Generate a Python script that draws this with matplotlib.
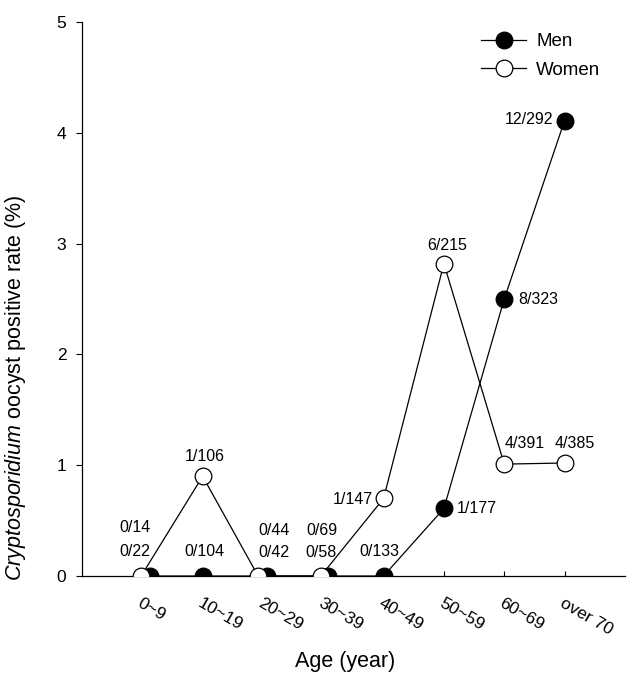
from __future__ import annotations

import matplotlib

matplotlib.use("Agg")
import matplotlib.pyplot as plt
from matplotlib.lines import Line2D
import numpy as np

OUTPUT_FILE = "out.png"

AGE_GROUPS = ["0~9", "10~19", "20~29", "30~39", "40~49", "50~59", "60~69", "over 70"]
MEN_RATE = [0.0, 0.0, 0.0, 0.0, 0.0, 0.61, 2.50, 4.11]
WOMEN_RATE = [0.0, 0.90, 0.0, 0.0, 0.70, 2.82, 1.01, 1.02]
MEN_LABELS = ["0/22", "0/104", "0/42", "0/58", "0/133", "1/177", "8/323", "12/292"]
WOMEN_LABELS = ["0/14", "1/106", "0/44", "0/69", "1/147", "6/215", "4/391", "4/385"]
Y_TICKS = [0, 1, 2, 3, 4, 5]

# small sideways nudge so overlapping zero markers stay visible
MEN_SHIFT = [0.13, 0.0, 0.07, 0.08, 0.0, 0.0, 0.0, 0.0]
WOMEN_SHIFT = [-0.02, 0.0, -0.08, -0.04, 0.0, 0.0, 0.0, 0.0]

# label offsets in points (dx, dy, ha)
MEN_OFFSETS = [(-10.8, 17.3, "center"), (1.4, 17.3, "center"), (5.0, 16.6, "center"),
               (-5.0, 16.6, "center"), (-2.9, 17.3, "center"), (9.4, 0.0, "left"),
               (10.1, 0.0, "left"), (-7.9, 0.7, "right")]
WOMEN_OFFSETS = [(-4.3, 34.6, "center"), (1.4, 14.4, "center"), (11.5, 33.1, "center"),
                 (0.7, 33.1, "center"), (-7.9, -0.7, "right"), (2.2, 13.0, "center"),
                 (14.4, 15.1, "center"), (7.2, 14.4, "center")]


def configure_matplotlib() -> None:
    plt.rcParams["font.family"] = ["Liberation Sans", "DejaVu Sans"]
    plt.rcParams["mathtext.fontset"] = "custom"
    plt.rcParams["mathtext.rm"] = "Liberation Sans"
    plt.rcParams["mathtext.it"] = "Liberation Sans:italic"


def label_points(axis, xs, ys, labels, offsets) -> None:
    for x, y, text, (dx, dy, ha) in zip(xs, ys, labels, offsets):
        axis.annotate(text, xy=(x, y), xytext=(dx, dy), textcoords="offset points",
                      ha=ha, va="center", fontsize=11.5)


def main() -> int:
    configure_matplotlib()
    figure = plt.figure(figsize=(6.28, 6.73), dpi=100)
    axis = figure.add_axes([0.1306, 0.1441, 0.8644, 0.8232])

    positions = np.arange(1, len(AGE_GROUPS) + 1)
    men_x = positions + np.array(MEN_SHIFT)
    women_x = positions + np.array(WOMEN_SHIFT)

    style = dict(color="black", linewidth=0.9, markersize=12, markeredgewidth=0.9,
                 markeredgecolor="black", marker="o")
    axis.plot(men_x, MEN_RATE, markerfacecolor="black", zorder=3, **style)
    axis.plot(women_x, WOMEN_RATE, markerfacecolor="white", zorder=4, **style)

    label_points(axis, men_x, MEN_RATE, MEN_LABELS, MEN_OFFSETS)
    label_points(axis, women_x, WOMEN_RATE, WOMEN_LABELS, WOMEN_OFFSETS)

    axis.set_xlim(0, 9)
    axis.set_ylim(0, 5)
    axis.spines["top"].set_visible(False)
    axis.spines["right"].set_visible(False)
    for side in ("left", "bottom"):
        axis.spines[side].set_linewidth(0.9)

    axis.set_xticks(positions)
    axis.set_xticklabels(AGE_GROUPS, rotation=-30, ha="left", va="top",
                         rotation_mode="anchor", fontsize=12.5)
    axis.tick_params(axis="x", direction="in", length=3.5, width=0.8, pad=14)
    axis.set_yticks(Y_TICKS)
    axis.tick_params(axis="y", direction="out", length=4.3, width=0.8, pad=7, labelsize=12.5)

    axis.set_xlabel("Age (year)", fontsize=15.5)
    axis.xaxis.set_label_coords(0.485, -0.136)
    axis.set_ylabel(r"$\mathit{Cryptosporidium}$ oocyst positive rate (%)", fontsize=15.5)
    axis.yaxis.set_label_coords(-0.099, 0.34)

    handles = [
        Line2D([], [], markerfacecolor="black", **style),
        Line2D([], [], markerfacecolor="white", **style),
    ]
    figure.legend(handles, ["Men", "Women"], loc="upper left",
                  bbox_to_anchor=(481 / 628, 1 - 33 / 673), frameon=False,
                  fontsize=13.5, handlelength=2.4, handletextpad=0.55,
                  labelspacing=0.62, borderpad=0, borderaxespad=0)

    figure.savefig(OUTPUT_FILE, dpi=100)
    plt.close(figure)
    return 0


if __name__ == "__main__":
    raise SystemExit(main())
